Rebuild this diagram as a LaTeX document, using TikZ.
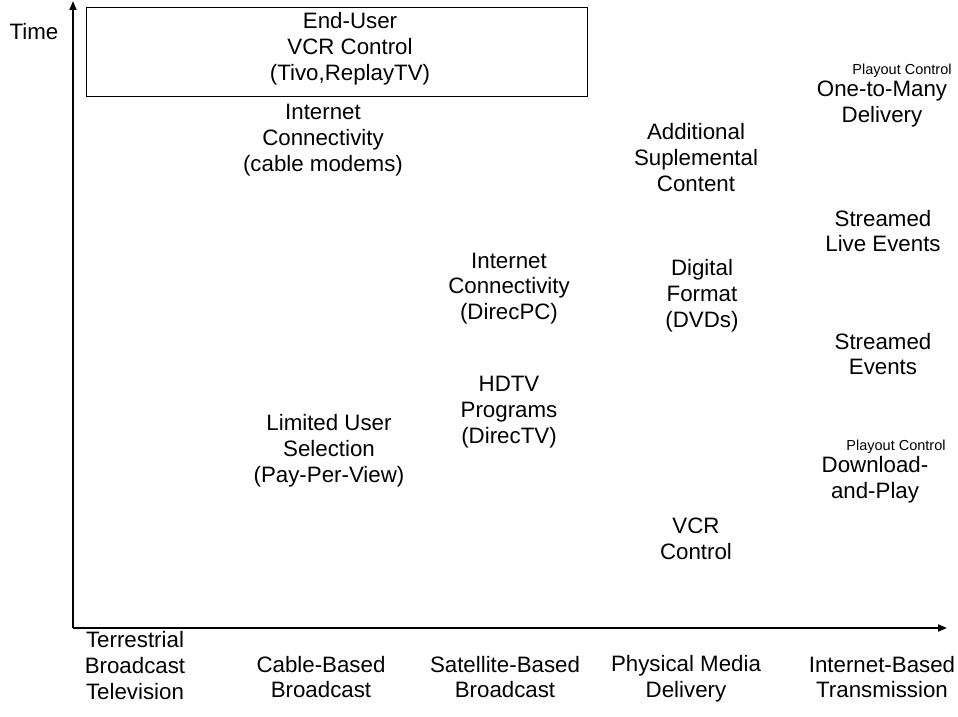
\documentclass[tikz,border=0pt]{standalone}
\usepackage{fontspec}
\setmainfont{Liberation Sans}
\usetikzlibrary{arrows.meta}
\begin{document}
\begin{tikzpicture}[x=1pt,y=-1pt,
  lbl/.style={inner sep=0pt,align=center,font=\fontsize{22.3}{25.8}\selectfont},
  small/.style={inner sep=0pt,font=\fontsize{14.5}{16}\selectfont},
  axis/.style={line width=1.8pt,-{Triangle[length=9pt,width=7pt]}}]
\useasboundingbox (0,0) rectangle (958,717);
\coordinate (o) at (73,628);
\coordinate (ytop) at (73,1);
\coordinate (xend) at (947,628);
\draw[axis] (o) -- (ytop);
\draw[axis] (o) -- (xend);
\node[lbl] (time) at (34,32) {Time};
\draw[line width=1pt] (86,8) rectangle (587,96);
\node[lbl] (enduser) at (350,49) {End-User\\VCR Control\\(Tivo,ReplayTV)};
\node[lbl] (inetcable) at (323,140) {Internet\\Connectivity\\(cable modems)};
\node[lbl] (limited) at (329,451) {Limited User\\Selection\\(Pay-Per-View)};
\node[lbl] (inetdirec) at (509,288.5) {Internet\\Connectivity\\(DirecPC)};
\node[lbl] (hdtv) at (509,412) {HDTV\\Programs\\(DirecTV)};
\node[lbl] (addl) at (696,157.5) {Additional\\Suplemental\\Content};
\node[lbl] (digital) at (702,296) {Digital\\Format\\(DVDs)};
\node[lbl] (vcr) at (696,538.5) {VCR\\Control};
\node[small] (pc1) at (902,71) {Playout Control};
\node[lbl] (onetomany) at (882,104) {One-to-Many\\Delivery};
\node[lbl] (streamlive) at (883,231) {Streamed\\Live Events};
\node[lbl] (streamed) at (883,354) {Streamed\\Events};
\node[small] (pc2) at (896,447) {Playout Control};
\node[lbl] (download) at (875,480) {Download-\\and-Play};
\node[lbl] (terr) at (135,665.5) {Terrestrial\\Broadcast\\Television};
\node[lbl] (cable) at (321,677) {Cable-Based\\Broadcast};
\node[lbl] (sat) at (505,677) {Satellite-Based\\Broadcast};
\node[lbl] (phys) at (686,679) {Physical Media\\Delivery};
\node[lbl] (inet) at (882,677) {Internet-Based\\Transmission};
\end{tikzpicture}
\end{document}
